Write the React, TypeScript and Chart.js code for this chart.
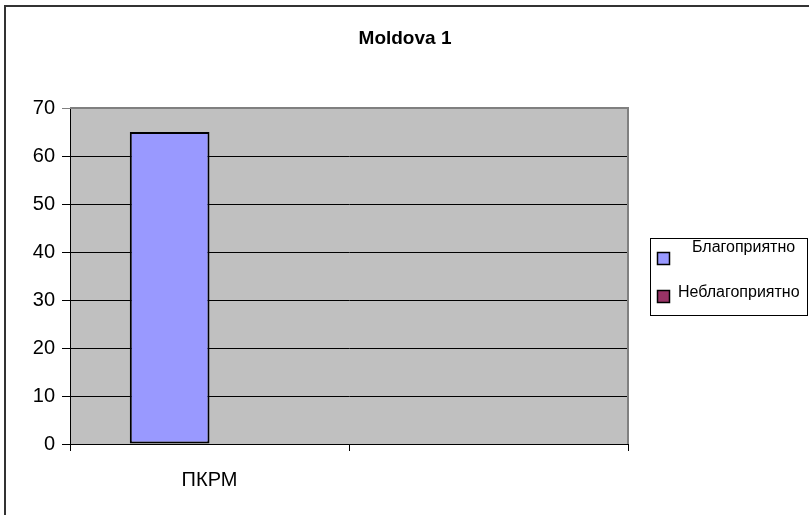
import React, { useEffect, useRef } from "react";
import { Chart, registerables } from "chart.js";

Chart.register(...registerables);

const title = "Moldova 1";
const categories = ["ПКРМ", ""];
const seriesNames = ["Благоприятно", "Неблагоприятно"];
const favorable = [65, null];
const unfavorable = [0, null];
const seriesColors = ["#9999FF", "#993366"];
const yMin = 0;
const yMax = 70;
const yStep = 10;

const FONT = "'Liberation Sans', Arial, sans-serif";

const decorPlugin = {
  id: "decor",
  beforeDraw(chart: any) {
    const { ctx, chartArea } = chart;
    ctx.save();
    ctx.fillStyle = "#ffffff";
    ctx.fillRect(0, 0, chart.width, chart.height);
    ctx.strokeStyle = "#333333";
    ctx.lineWidth = 2;
    ctx.beginPath();
    ctx.moveTo(5, chart.height + 5);
    ctx.lineTo(5, 6);
    ctx.lineTo(chart.width + 5, 6);
    ctx.stroke();
    ctx.fillStyle = "#C0C0C0";
    ctx.fillRect(chartArea.left, chartArea.top, chartArea.right - chartArea.left, chartArea.bottom - chartArea.top);
    ctx.restore();
  },
  afterDatasetsDraw(chart: any) {
    const { ctx, chartArea } = chart;
    ctx.save();
    ctx.strokeStyle = "#808080";
    ctx.lineWidth = 2;
    ctx.beginPath();
    ctx.moveTo(chartArea.left, chartArea.top);
    ctx.lineTo(chartArea.right, chartArea.top);
    ctx.lineTo(chartArea.right, chartArea.bottom);
    ctx.stroke();
    ctx.restore();
  },
  afterDraw(chart: any) {
    const { ctx } = chart;
    ctx.save();
    ctx.fillStyle = "#000";
    ctx.font = `bold 19px ${FONT}`;
    ctx.textAlign = "center";
    ctx.textBaseline = "middle";
    ctx.fillText(title, 405, 39);
    ctx.strokeStyle = "#000";
    ctx.lineWidth = 1;
    ctx.strokeRect(650.5, 238.5, 157, 77);
    ctx.font = `16px ${FONT}`;
    ctx.textAlign = "left";
    const items = [
      { sq: [657, 252], tx: [692, 248] },
      { sq: [657, 290], tx: [678, 293] },
    ];
    items.forEach((it, i) => {
      ctx.fillStyle = seriesColors[i];
      ctx.fillRect(it.sq[0], it.sq[1], 12, 12);
      ctx.strokeStyle = "#000";
      ctx.lineWidth = 1.5;
      ctx.strokeRect(it.sq[0] + 0.5, it.sq[1] + 0.5, 12, 12);
      ctx.fillStyle = "#000";
      ctx.fillText(seriesNames[i], it.tx[0], it.tx[1]);
    });
    ctx.restore();
  },
};

export default function App() {
  const ref = useRef<HTMLCanvasElement | null>(null);
  useEffect(() => {
    if (!ref.current) return;
    const chart = new Chart(ref.current, {
      type: "bar",
      data: {
        labels: categories,
        datasets: [
          {
            label: seriesNames[0],
            data: favorable,
            backgroundColor: seriesColors[0],
            borderColor: "#000",
            borderWidth: (c: any) => (c.raw ? 2 : 0),
            borderSkipped: false,
          },
          {
            label: seriesNames[1],
            data: unfavorable,
            backgroundColor: seriesColors[1],
            borderColor: "#000",
            borderWidth: (c: any) => (c.raw ? 2 : 0),
            borderSkipped: false,
          },
        ],
      },
      plugins: [decorPlugin],
      options: {
        responsive: false,
        animation: false,
        devicePixelRatio: 1,
        layout: { padding: { left: 0, top: 108, right: 181, bottom: 0 } },
        datasets: { bar: { categoryPercentage: 2 / 3.5, barPercentage: 1 } },
        plugins: { legend: { display: false }, title: { display: false }, tooltip: { enabled: false } },
        scales: {
          x: {
            offset: true,
            grid: { offset: true, drawOnChartArea: false, drawTicks: true, tickLength: 7, color: "#000" },
            border: { color: "#000", width: 1 },
            ticks: { color: "#000", font: { family: FONT, size: 20 }, padding: 17 },
            afterFit(s: any) {
              s.height = 71;
            },
          },
          y: {
            min: yMin,
            max: yMax,
            grid: {
              color: (c: any) => (c.tick && c.tick.value === yMax ? "#808080" : "#000"),
              tickLength: 8,
              lineWidth: 1,
            },
            border: { color: "#000", width: 1 },
            ticks: { stepSize: yStep, color: "#000", font: { family: FONT, size: 20 }, padding: 7 },
            afterFit(s: any) {
              s.width = 70;
            },
          },
        },
      },
    } as any);
    return () => chart.destroy();
  }, []);
  return (
    <div style={{ position: "absolute", left: 0, top: 0, width: 809, height: 515 }}>
      <canvas ref={ref} width={809} height={515} style={{ display: "block" }} />
    </div>
  );
}
